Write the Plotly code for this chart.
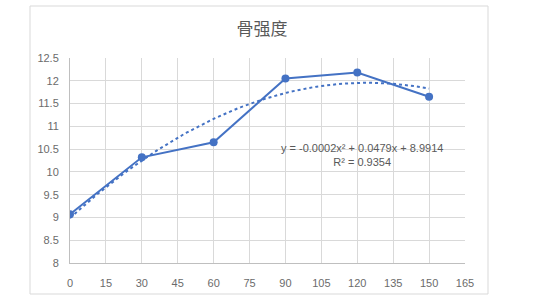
import numpy as np
import plotly.graph_objects as go

days = [0, 30, 60, 90, 120, 150]
strength = [9.07, 10.32, 10.65, 12.05, 12.18, 11.65]
x_ticks = list(range(0, 166, 15))
y_ticks = [8, 8.5, 9, 9.5, 10, 10.5, 11, 11.5, 12, 12.5]
title = "骨强度"
eq_text = "y = -0.0002x² + 0.0479x + 8.9914<br>R² = 0.9354"

coef = np.polyfit(days, strength, 2)
xs = np.linspace(min(days), max(days), 100)
ys = np.polyval(coef, xs)

blue = "#4472C4"
fig = go.Figure()
fig.add_trace(go.Scatter(x=xs, y=ys, mode="lines",
                         line=dict(color=blue, width=2, dash="dot"), hoverinfo="skip"))
fig.add_trace(go.Scatter(x=days, y=strength, mode="lines+markers",
                         line=dict(color=blue, width=2),
                         marker=dict(color=blue, size=8)))

fig.update_layout(
    width=548, height=302,
    margin=dict(l=70, r=83, t=58, b=39),
    paper_bgcolor="white", plot_bgcolor="white",
    showlegend=False,
    font=dict(family="Liberation Sans, Arial", size=11, color="#6b6b6b"),
    title=dict(text=title, x=262/548, xanchor="center", y=1-29/302, yanchor="middle",
               font=dict(family="Noto Sans CJK SC", size=17, color="#595959")),
    xaxis=dict(range=[0, 165], tickvals=x_ticks, showgrid=True, gridcolor="#d9d9d9",
               gridwidth=1, zeroline=False, showline=True, linecolor="#bfbfbf",
               ticks="", ticklabelstandoff=10, fixedrange=True),
    yaxis=dict(range=[8, 12.5], tickvals=y_ticks, ticktext=[f"{v:g}" for v in y_ticks],
               showgrid=True, gridcolor="#d9d9d9", gridwidth=1, zeroline=False,
               showline=True, linecolor="#bfbfbf", ticks="", ticklabelstandoff=8,
               fixedrange=True),
    shapes=[dict(type="rect", xref="paper", yref="paper",
                 x0=(30-70)/395, x1=(488-70)/395, y0=(263-294)/205, y1=(263-6)/205,
                 line=dict(color="#d9d9d9", width=1))],
    annotations=[dict(x=122, y=10.37, xref="x", yref="y", text=eq_text, showarrow=False,
                      font=dict(family="Liberation Sans, Arial", size=11, color="#595959"),
                      align="center", xanchor="center", yanchor="middle")],
)
fig.write_html("out.html")
